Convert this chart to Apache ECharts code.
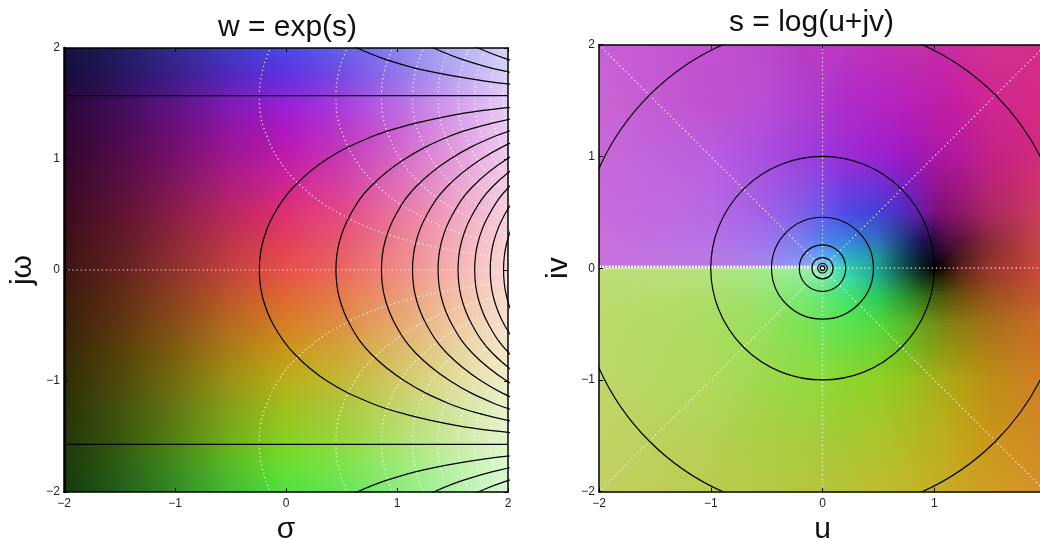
<!DOCTYPE html>
<html><head><meta charset="utf-8">
<style>html,body{margin:0;padding:0;background:#fff;overflow:hidden}#c{width:1040px;height:539px}</style>
<script src="https://cdn.jsdelivr.net/npm/echarts@6/dist/echarts.min.js"></script>
</head><body><div id="c"></div>
<script>
// ---------- tick labels / titles
const tickValues = [-2,-1,0,1,2];
const titles = ['w = exp(s)','s = log(u+jv)'];
const axisNames = {left:['\u03c3','j\u03c9'], right:['u','iv']};

// ---------- left panel colour cells
const sigmaNodes = [-2,-1.5,-1,-.5,0,.5,1,1.5,2];
const omegaNodes = [2,1.75,1.5,1.25,1,.75,.5,.25,0,-.25,-.5,-.75,-1,-1.25,-1.5,-1.75,-2];
const leftColours = [
['#13133c','#1f1e61','#2e2d90','#3e3cc3','#4a48e8','#6260eb','#8684ef','#afaef5','#d5d5fa'],
['#190c3a','#28145e','#3c1e8b','#5128bc','#6030e0','#754be4','#9474ea','#b9a4f1','#dacff8'],
['#280838','#400d5b','#5e1486','#801bb5','#9820d8','#a53ddd','#ba6ae5','#d29dee','#e7ccf6'],
['#2e0632','#4a0a51','#6d0f77','#9414a1','#b018c0','#ba36c8','#ca64d5','#dc99e3','#edcaf1'],
['#32072c','#510c47','#771168','#a1188d','#c01ca8','#c83ab3','#d567c5','#e39bd9','#f1cbeb'],
['#360a25','#57103c','#811859','#af2079','#d02690','#d6429e','#e06eb5','#eaa0ce','#f4cde5'],
['#3a0c1d','#5e142f','#8b1e45','#bc285e','#e03070','#e44b83','#ea749f','#f1a4c0','#f8cfde'],
['#3b1117','#5f1b25','#8c2837','#be364a','#e24058','#e6596e','#ec7f8f','#f2abb5','#f8d3d9'],
['#3c1513','#61221e','#90322d','#c3433c','#e85048','#eb6760','#f08a84','#f5b2af','#fad7d5'],
['#3a1c0c','#5e2d14','#8b421e','#bc5928','#e06a30','#e47d4b','#ea9b74','#f1bea4','#f8dccf'],
['#38210a','#5b3610','#864f18','#b56c20','#d88026','#dd9042','#e5aa6e','#eec7a0','#f6e2cd'],
['#342806','#54410a','#7c5f0f','#a88114','#c89a18','#cfa736','#dabb64','#e7d399','#f3e8ca'],
['#302e06','#4d4a0a','#726d0f','#9b9414','#b8b018','#c1ba36','#cfca64','#e0dc99','#efedca'],
['#2a3208','#43510d','#637714','#86a11b','#a0c020','#acc83d','#bfd56a','#d5e39d','#e9f1cc'],
['#233608','#39570d','#548114','#72af1b','#88d020','#97d63d','#afe06a','#cbea9d','#e4f4cc'],
['#1b3a0c','#2c5e14','#408b1e','#57bc28','#68e030','#7ce44b','#9aea74','#bdf1a4','#dcf8cf'],
['#153a11','#225e1b','#328b28','#43bc36','#50e040','#67e459','#8aea7f','#b2f1ab','#d7f8d3']];

// ---------- right panel colour cells
const uNodes = [-2,-1,-.5,-.2,0,.2,.5,.75,.9,1,1.1,1.25,1.5,2];
const vNodes = [2,1.5,1,.5,.25,.1,0,0,-.1,-.25,-.5,-1,-1.5,-2];
const rightColours = [
['#c860d8','#c450d0','#bc48cc','#b83cc4','#ba3cc4','#ba38c0','#bc30b8','#c030b0','#c030ac','#c42ca8','#c62ca6','#cc2e9c','#d0308f','#d42c8a'],
['#c864d4','#c052d0','#b84cd4','#b040d0','#b038cc','#b02cc8','#b426c4','#b822b8','#bc20b0','#c01eac','#c21ea8','#c8209e','#d02692','#d62a84'],
['#c868d8','#b85ee0','#a84ee0','#a040dc','#9c38dc','#9c2cd8','#9c22d0','#a018c4','#a218b0','#aa18a8','#ae18a0','#b41a9a','#c22288','#d42a78'],
['#c86cdc','#b868e4','#a060e4','#8060e8','#6858ea','#5048e8','#4440d8','#5028bc','#7018a0','#7a1280','#841070','#90186a','#ac2860','#d03e5e'],
['#c870dc','#b870e8','#9c74ec','#7c7cf0','#4c80ec','#3c80e0','#3070c0','#1e3a7c','#1e1058','#2a0a40','#4a0c48','#5e1438','#8c2a3c','#cc4848'],
['#c870dc','#b878e4','#a080ee','#8090f0','#60a8f0','#30b0d0','#209898','#0c4058','#081830','#140628','#2a0818','#501c20','#8a3028','#cc4c40'],
['#c870dc','#b878e4','#a484ee','#889cf2','#a0d8e8','#30d0b0','#209e90','#0c4c48','#061c1c','#000000','#1c0806','#61221e','#993530','#ce4740'],
['#bfe07a','#b4e47a','#a2ec88','#9cf0a0','#a0f0c8','#30d0b0','#209e90','#0c4c48','#061c1c','#000000','#1c0806','#61221e','#993530','#ce4740'],
['#bedc74','#b4e278','#a0e884','#8eeb91','#7aeba1','#3ee0a8','#20b088','#186840','#103818','#1c2a06','#342806','#623214','#963f25','#cf4f3a'],
['#bedc70','#aedd6a','#98e270','#7ce878','#67e776','#44e372','#2dca5a','#2b942e','#327018','#405f0e','#53570b','#70500e','#9a531c','#cb582f'],
['#bed96a','#aadc62','#96e05c','#7ee452','#6be459','#5ce350','#50d93c','#57bc28','#69a019','#6f9316','#7e8612','#8d7c0f','#a67018','#ce6a29'],
['#bed76c','#afd95b','#9dda4d','#95da43','#8cdc38','#8bd530','#90d024','#96c41e','#9db81c','#a5b119','#a9ab17','#b3a013','#bc8f17','#d27b23'],
['#c1d366','#b4d154','#abcf46','#a7cd40','#a4cb39','#a5c834','#aac52e','#b2bc24','#b6b61e','#bab21c','#bcae1c','#c2a418','#ca961a','#d48826'],
['#c5cf5f','#bccc50','#b9c947','#b6c63c','#b8c43a','#b9c236','#bebc30','#c0b82a','#c4b428','#c6b028','#c8ac28','#cca426','#ce9e24','#d69028']];

// ---------- left panel black contours: sigma at each omega (mirrored below omega = 0)
const blackOmega = [0,.25,.5,.75,1,1.2,1.3,1.4,1.45,1.5];
const blackSigma1 = [-.24,-.21,-.11,.07,.37,.77,1.08,1.53,1.88,2.41];
const blackSigma2 = [.45,.48,.58,.76,1.07,1.46,1.77,2.22,2.57,3.10];
const blackSigma3 = [.86,.89,.99,1.17,1.48,1.87,2.18,2.63];
const blackSigma4 = [1.14,1.17,1.27,1.45,1.76,2.15,2.46];
const blackSigma5 = [1.37,1.40,1.50,1.68,1.99,2.38];
const blackSigma6 = [1.55,1.58,1.68,1.86,2.17];
const blackSigma7 = [1.70,1.73,1.83,2.01,2.32];
const blackSigma8 = [1.84,1.87,1.97,2.15];
const blackSigma9 = [1.96,1.99,2.09,2.27];
const outerOmega = [1.65,1.7,1.8,1.9,2.0,2.1];
const outerSigma1 = [2.30,1.81,1.24,.89,.64,.44];
const outerSigma2 = [2.99,2.50,1.93,1.58,1.33,1.14];
const outerSigma3 = [3.39,2.91,2.34,1.99,1.73,1.54];
const quarterOmega = [1.5708];
const quarterSigma = [-1.97,2];

// ---------- left panel white dotted contours
const whiteOmega = [.1,.15,.2,.3,.4,.5,.6,.8,1,1.2,1.4,1.57,1.8,2,2.1];
const whiteSigma1 = [2.06,1.66,1.38,.98,.70,.50,.33,.09,-.07,-.17,-.23,-.24,-.21,-.14,-.09];
const whiteSigma2 = [2.75,2.35,2.07,1.67,1.39,1.19,1.02,.78,.62,.52,.46,.45,.48,.55,.60];
const whiteSigma3 = [3.16,2.76,2.48,2.08,1.80,1.60,1.43,1.19,1.03,.93,.87,.86,.89,.96,1.01];
const whiteSigma4 = [3.44,3.04,2.76,2.36,2.08,1.88,1.71,1.47,1.31,1.21,1.15,1.14,1.17,1.24,1.29];
const whiteSigma5 = [3.67,3.27,2.99,2.59,2.31,2.11,1.94,1.70,1.54,1.44,1.38,1.37,1.40,1.47,1.52];
const whiteSigma6 = [3.85,3.45,3.17,2.77,2.49,2.29,2.12,1.88,1.72,1.62,1.56,1.55,1.58,1.65,1.70];
const whiteSigma7 = [4,3.6,3.32,2.92,2.64,2.44,2.27,2.03,1.87,1.77,1.71,1.70,1.73,1.80,1.85];
const whiteSigma8 = [4.1,3.7,3.45,3.05,2.78,2.58,2.41,2.17,2.01,1.91,1.85,1.84,1.87,1.94,1.99];
const whiteSigma9 = [4.2,3.85,3.57,3.17,2.9,2.7,2.53,2.29,2.13,2.03,1.97,1.96,1.99,2.06,2.11];

// ---------- right panel contours
const circleRadii = [2.19,1,.456,.208,.095,.043,.02];
const rayEnds = [[2,2],[0,2],[-2,2],[2,0],[2,-2],[0,-2],[-2,-2]];
const branchCut = [[-2,0.01],[-.02,0.01]];

// ---------- helpers
const hex = c => [1,3,5].map(i => parseInt(c.substr(i,2),16));
const shade = (A,B,t) => A.map((v,i)=>v+(B[i]-v)*t);
const css = C => 'rgb('+C.map(Math.round).join(',')+')';
const grad = (a,b) => new echarts.graphic.LinearGradient(0,0,1,0,[{offset:0,color:css(a)},{offset:1,color:css(b)}]);
const STRIP = 3;

// each cell is painted from its four read corner colours, in thin strips that shade smoothly
function cellSeries(xn,yn,cols,xi,yi){
  const cells=[];
  for(let r=0;r<yn.length-1;r++) for(let c=0;c<xn.length-1;c++){
    if(yn[r]===yn[r+1]) continue;
    cells.push({value:[xn[c],yn[r],xn[c+1],yn[r+1]],a:hex(cols[r][c]),b:hex(cols[r][c+1]),d:hex(cols[r+1][c]),e:hex(cols[r+1][c+1])});
  }
  return {type:'custom',xAxisIndex:xi,yAxisIndex:yi,z:1,silent:true,clip:true,animation:false,
    encode:{x:[0,2],y:[1,3]},data:cells,
    renderItem(p,api){
      const q=cells[p.dataIndex];
      const p0=api.coord([api.value(0),api.value(1)]),p1=api.coord([api.value(2),api.value(3)]);
      const x=Math.round(p0[0]),y=Math.round(p0[1]),w=Math.round(p1[0])-x,h=Math.round(p1[1])-y;
      const children=[];
      for(let sy=0;sy<h;sy+=STRIP){
        const t=Math.min(1,(sy+STRIP/2)/h);
        children.push({type:'rect',shape:{x,y:y+sy,width:w,height:Math.min(STRIP,h-sy)},
          style:{fill:grad(shade(q.a,q.d,t),shade(q.b,q.e,t))}});
      }
      return {type:'group',children};
    }};
}
const line = (data,style,xi,yi,z,smooth) => ({type:'line',xAxisIndex:xi,yAxisIndex:yi,data,symbol:'none',
  smooth:smooth?0.4:false,clip:true,z,silent:true,animation:false,lineStyle:style});
const black = {color:'#000',width:1.2};
const dots = {color:'#fff',width:1.2,type:[1.2,3],opacity:.9};
const zip = (s,o) => s.map((v,i)=>[v,o[i]]);
const both = s => { const up=zip(s,blackOmega); return up.slice().reverse().map(p=>[p[0],p[1]]).concat(up.slice(1).map(p=>[p[0],-p[1]])); };

const series=[cellSeries(sigmaNodes,omegaNodes,leftColours,0,0),cellSeries(uNodes,vNodes,rightColours,2,2)];
[whiteSigma1,whiteSigma2,whiteSigma3,whiteSigma4,whiteSigma5,whiteSigma6,whiteSigma7,whiteSigma8,whiteSigma9].forEach(s=>{
  series.push(line(zip(s,whiteOmega),dots,0,0,3,true));
  series.push(line(zip(s,whiteOmega.map(o=>-o)),dots,0,0,3,true));
});
series.push(line([[-2,0],[2,0]],dots,0,0,3,false));
[blackSigma1,blackSigma2,blackSigma3,blackSigma4,blackSigma5,blackSigma6,blackSigma7,blackSigma8,blackSigma9].forEach(s=>{
  series.push(line(both(s),black,0,0,4,true));
});
[outerSigma1,outerSigma2,outerSigma3].forEach(s=>{
  series.push(line(zip(s,outerOmega),black,0,0,4,true));
  series.push(line(zip(s,outerOmega.map(o=>-o)),black,0,0,4,true));
});
series.push(line(quarterSigma.map(s=>[s,quarterOmega[0]]),black,0,0,4,false));
series.push(line(quarterSigma.map(s=>[s,-quarterOmega[0]]),black,0,0,4,false));
rayEnds.forEach(e=>series.push(line([[0,0],e],dots,2,2,3,false)));
series.push(line(branchCut,{color:'#fff',width:3,type:[2,1.2],opacity:.95},2,2,3,false));
series.push({type:'custom',xAxisIndex:2,yAxisIndex:2,z:4,silent:true,clip:true,animation:false,
  encode:{x:0},data:circleRadii.map(r=>[r]),
  renderItem(p,api){
    const c=api.coord([0,0]);
    return {type:'circle',shape:{cx:c[0],cy:c[1],r:api.size([api.value(0),0])[0]},
      style:{fill:'none',stroke:'#000',lineWidth:1.2}};
  }});

const tickFmt = v => String(v).replace('-','\u2212');
const labelStyle = {fontFamily:'Liberation Sans',fontSize:12,color:'#222',formatter:tickFmt};
const nameStyle = {fontFamily:'Liberation Sans',fontSize:30,color:'#111'};
function xAx(grid,pos,name,gap,lw){return {type:'value',gridIndex:grid,position:pos,min:tickValues[0],max:tickValues[4],interval:1,z:10,
  name,nameLocation:'middle',nameGap:gap,nameTextStyle:nameStyle,
  axisLine:{show:true,onZero:false,lineStyle:{color:'#000',width:lw}},axisTick:{show:true,inside:true,length:4,lineStyle:{color:'#000',width:1}},
  axisLabel:pos==='bottom'?Object.assign({margin:6},labelStyle):{show:false},splitLine:{show:false}};}
function yAx(grid,pos,name,gap,lw){return {type:'value',gridIndex:grid,position:pos,min:tickValues[0],max:tickValues[4],interval:1,z:10,
  name,nameLocation:'middle',nameGap:gap,nameRotate:90,nameTextStyle:nameStyle,
  axisLine:{show:true,onZero:false,lineStyle:{color:'#000',width:lw}},axisTick:{show:true,inside:true,length:4,lineStyle:{color:'#000',width:1}},
  axisLabel:pos==='left'?Object.assign({margin:4},labelStyle):{show:false},splitLine:{show:false}};}

const chart=echarts.init(document.getElementById('c'),null,{renderer:'canvas',width:1040,height:539});
chart.setOption({
  backgroundColor:'#fff',animation:false,tooltip:{show:false},
  title:[
    {text:titles[0],left:282.5,top:8,textAlign:'center',textStyle:{fontFamily:'Liberation Sans',fontSize:30,fontWeight:'normal',color:'#111'}},
    {text:titles[1],left:806.5,top:3,textAlign:'center',textStyle:{fontFamily:'Liberation Sans',fontSize:30,fontWeight:'normal',color:'#111'}}],
  grid:[{left:64,top:48,width:444,height:444,outerBoundsMode:'none'},{left:599,top:44.7,width:447,height:447,outerBoundsMode:'none'}],
  xAxis:[xAx(0,'bottom',axisNames.left[0],17,1.5),xAx(0,'top','',0,1.5),xAx(1,'bottom',axisNames.right[0],19,1.5),xAx(1,'top','',0,1.5)],
  yAxis:[yAx(0,'left',axisNames.left[1],26,2.5),yAx(0,'right','',0,1.5),yAx(1,'left',axisNames.right[1],25,1.5),yAx(1,'right','',0,1.5)],
  series
});
</script></body></html>
